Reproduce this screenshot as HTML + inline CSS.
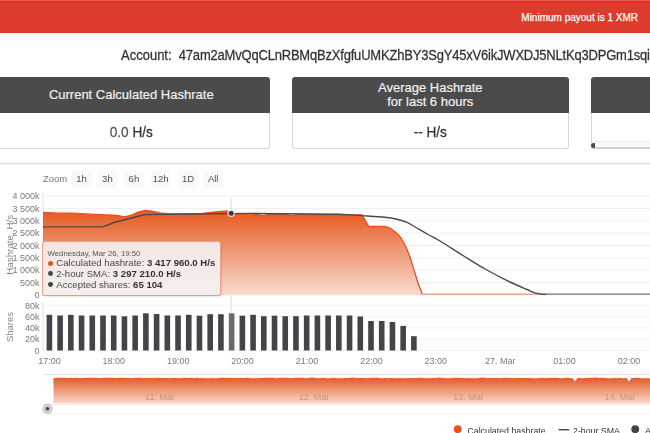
<!DOCTYPE html>
<html><head><meta charset="utf-8"><style>
html,body{margin:0;padding:0;width:650px;height:433px;overflow:hidden;background:#fff;font-family:"Liberation Sans", sans-serif;}
.abs{position:absolute;}
.card{position:absolute;top:77px;width:277.5px;height:72px;}
.card .hd{position:absolute;left:0;top:0;right:0;height:36px;background:#4b4b4b;border-radius:3px 3px 0 0;color:#f0f0f0;font-size:13px;text-align:center;-webkit-text-stroke:0.2px #f0f0f0;}
.card .bd{position:absolute;left:0;top:36px;right:0;height:35px;border:1px solid #d6d6d6;border-top:none;border-radius:0 0 3px 3px;background:#fff;color:#333;font-size:13.6px;text-align:center;line-height:37px;-webkit-text-stroke:0.25px currentColor;}
</style></head><body><div style="position:absolute;left:0;top:0;width:650px;height:433px;overflow:hidden;filter:blur(0.6px)">
<div class="abs" style="left:0;top:0;width:650px;height:33px;background:#dd3b2b"></div>
<div class="abs" style="left:0;top:0;width:650px;height:1px;background:#e25852"></div><div class="abs" style="left:0;top:1px;width:650px;height:1.5px;background:#ee2c26"></div>
<div class="abs" style="right:12px;top:12px;font-size:10px;color:#fff;white-space:nowrap;line-height:12px;-webkit-text-stroke:0.25px #fff">Minimum payout is 1 XMR</div>
<div class="abs" style="left:121px;top:46.5px;font-size:13px;color:#333;white-space:nowrap;line-height:16px;transform:scaleY(1.1);transform-origin:0 0;-webkit-text-stroke:0.25px #333">Account:&nbsp; <span style="letter-spacing:-0.2px">47am2aMvQqCLnRBMqBzXfgfuUMKZhBY3SgY45xV6ikJWXDJ5NLtKq3DPGm1sqiYx2Lh</span></div>
<div class="card" style="left:-7.5px"><div class="hd" style="line-height:36px">Current Calculated Hashrate</div><div class="bd"><span style="display:inline-block;transform:scaleY(1.12)"><span style="color:#555">0.0</span> H/s</span></div></div>
<div class="card" style="left:291.5px"><div class="hd" style="line-height:14px;padding-top:4px;box-sizing:border-box">Average Hashrate<br>for last 6 hours</div><div class="bd"><span style="display:inline-block;transform:scaleY(1.12)">-- H/s</span></div></div>
<div class="card" style="left:590.5px"><div class="hd"></div><div class="bd" style="border-bottom-color:#cfcfcf"><div style="position:absolute;left:0;right:0;bottom:0;height:5px;background:#f9f9f9;border-top:1px solid #efefef;border-bottom:1px solid #d2d2d2"></div><div style="position:absolute;left:-1px;bottom:0px;width:4.5px;height:5.5px;background:#4a4a4a;border-radius:3px 0 0 3px"></div></div></div>
<svg width="650" height="433" viewBox="0 0 650 433" style="position:absolute;left:0;top:0" font-family='"Liberation Sans", sans-serif'><defs><linearGradient id="ag" x1="0" y1="0" x2="0" y2="1"><stop offset="0" stop-color="#e8581f"/><stop offset="0.5" stop-color="#ef9b7a"/><stop offset="1" stop-color="#f9dbcf"/></linearGradient><linearGradient id="ng" x1="0" y1="0" x2="0" y2="1"><stop offset="0" stop-color="#e35a25"/><stop offset="1" stop-color="#fbd8cc"/></linearGradient></defs><rect x="0" y="162.5" width="650" height="2" fill="#e3e3e3"/><text x="43" y="182" font-size="9.5" fill="#777">Zoom</text><rect x="71.6" y="170.5" width="20" height="18" rx="2" fill="#f9f9f9"/><text x="81.6" y="182" font-size="9.5" fill="#505050" text-anchor="middle">1h</text><rect x="97.4" y="170.5" width="20" height="18" rx="2" fill="#f9f9f9"/><text x="107.4" y="182" font-size="9.5" fill="#505050" text-anchor="middle">3h</text><rect x="123.9" y="170.5" width="20" height="18" rx="2" fill="#f9f9f9"/><text x="133.9" y="182" font-size="9.5" fill="#505050" text-anchor="middle">6h</text><rect x="150.6" y="170.5" width="20" height="18" rx="2" fill="#f9f9f9"/><text x="160.6" y="182" font-size="9.5" fill="#505050" text-anchor="middle">12h</text><rect x="178" y="170.5" width="20" height="18" rx="2" fill="#f9f9f9"/><text x="188" y="182" font-size="9.5" fill="#505050" text-anchor="middle">1D</text><rect x="203.2" y="170.5" width="20" height="18" rx="2" fill="#f9f9f9"/><text x="213.2" y="182" font-size="9.5" fill="#505050" text-anchor="middle">All</text><rect x="43" y="294.5" width="607" height="1" fill="#efefef"/><rect x="43" y="282.12" width="607" height="1" fill="#efefef"/><rect x="43" y="269.75" width="607" height="1" fill="#efefef"/><rect x="43" y="257.38" width="607" height="1" fill="#efefef"/><rect x="43" y="245" width="607" height="1" fill="#efefef"/><rect x="43" y="232.62" width="607" height="1" fill="#efefef"/><rect x="43" y="220.25" width="607" height="1" fill="#efefef"/><rect x="43" y="207.88" width="607" height="1" fill="#efefef"/><rect x="43" y="195.5" width="607" height="1" fill="#efefef"/><text x="39.5" y="298.2" font-size="9" fill="#7a7a7a" text-anchor="end">0</text><text x="39.5" y="285.82" font-size="9" fill="#7a7a7a" text-anchor="end">500k</text><text x="39.5" y="273.45" font-size="9" fill="#7a7a7a" text-anchor="end">1 000k</text><text x="39.5" y="261.07" font-size="9" fill="#7a7a7a" text-anchor="end">1 500k</text><text x="39.5" y="248.7" font-size="9" fill="#7a7a7a" text-anchor="end">2 000k</text><text x="39.5" y="236.32" font-size="9" fill="#7a7a7a" text-anchor="end">2 500k</text><text x="39.5" y="223.95" font-size="9" fill="#7a7a7a" text-anchor="end">3 000k</text><text x="39.5" y="211.57" font-size="9" fill="#7a7a7a" text-anchor="end">3 500k</text><text x="39.5" y="199.2" font-size="9" fill="#7a7a7a" text-anchor="end">4 000k</text><text transform="translate(13.2 244.8) rotate(-90)" font-size="9.8" fill="#888" text-anchor="middle">Hashrate, H/s</text><rect x="42.5" y="193" width="1" height="103" fill="#dfe3ee"/><rect x="230.6" y="198" width="1" height="153" fill="#e2d8d6"/><path d="M43 212.3 L58.5 213.2 L71.4 213.1 L90 214.2 L117 215.5 L124.5 217 L130.6 215.5 L138 212 L145.4 210.5 L152 211.2 L160 213 L170 213.9 L200.9 213.6 L215 212 L226.7 211 L231 213.4 L250 214.8 L258 214.6 L263 215.6 L268 214.6 L286 214.6 L292.4 215.6 L298 214.6 L362 214.9 L368.6 226.3 L385 226.3 L390 228 L396 232.4 L401 238 L405.9 246.7 L410 257 L413.6 268.6 L418 283 L422.4 294.2 L422.4 294.2 L422.4 295 L43 295 Z" fill="url(#ag)"/><path d="M43 212.3 L58.5 213.2 L71.4 213.1 L90 214.2 L117 215.5 L124.5 217 L130.6 215.5 L138 212 L145.4 210.5 L152 211.2 L160 213 L170 213.9 L200.9 213.6 L215 212 L226.7 211 L231 213.4 L250 214.8 L258 214.6 L263 215.6 L268 214.6 L286 214.6 L292.4 215.6 L298 214.6 L362 214.9 L368.6 226.3 L385 226.3 L390 228 L396 232.4 L401 238 L405.9 246.7 L410 257 L413.6 268.6 L418 283 L422.4 294.2" fill="none" stroke="#e8521e" stroke-width="1.3"/><path d="M422.4 294.2 L540 294.2" stroke="#f0907c" stroke-width="1.3"/><path d="M43 226.9 L102.3 226.9 L108 225 L114.6 222.2 L126.9 219.2 L139.2 216 L145.4 214.6 L170 214.2 L250 213.4 L340 214.2 C343.67 214.43 354.5 215.08 362 215.6 C369.5 216.12 379.17 216.7 385 217.3 C390.83 217.9 393.33 218.37 397 219.2 C400.67 220.03 403.83 220.92 407 222.3 C410.17 223.68 412.5 225.47 416 227.5 C419.5 229.53 424 232.25 428 234.5 C432 236.75 434.17 237.5 440 241 C445.83 244.5 455.33 250.75 463 255.5 C470.67 260.25 478.17 265.08 486 269.5 C493.83 273.92 503.17 278.67 510 282 C516.83 285.33 522.83 287.7 527 289.5 C531.17 291.3 532.5 292.02 535 292.8 C537.5 293.58 539.83 293.97 542 294.2 C544.17 294.43 547 294.2 548 294.2" fill="none" stroke="#4a4a4e" stroke-width="1.4" stroke-linejoin="round"/><path d="M546 294.2 L650 294.2" stroke="#9a9a9a" stroke-width="1.7"/><circle cx="231.2" cy="213.3" r="3.8" fill="#fff" opacity="0.75"/><circle cx="231.2" cy="213.3" r="2.5" fill="#3a3a3e"/><rect x="43" y="350" width="607" height="1" fill="#f2f2f2"/><rect x="43" y="338.7" width="607" height="1" fill="#f2f2f2"/><rect x="43" y="327.4" width="607" height="1" fill="#f2f2f2"/><rect x="43" y="316.1" width="607" height="1" fill="#f2f2f2"/><rect x="43" y="304.8" width="607" height="1" fill="#f2f2f2"/><text x="39.5" y="353.7" font-size="9" fill="#7a7a7a" text-anchor="end">0</text><text x="39.5" y="342.4" font-size="9" fill="#7a7a7a" text-anchor="end">20k</text><text x="39.5" y="331.1" font-size="9" fill="#7a7a7a" text-anchor="end">40k</text><text x="39.5" y="319.8" font-size="9" fill="#7a7a7a" text-anchor="end">60k</text><text x="39.5" y="308.5" font-size="9" fill="#7a7a7a" text-anchor="end">80k</text><text transform="translate(13 327) rotate(-90)" font-size="9.5" fill="#888" text-anchor="middle">Shares</text><rect x="42.5" y="302" width="1" height="49" fill="#dfe3ee"/><rect x="46.6" y="314.8" width="5.6" height="35.7" fill="#434348"/><rect x="57.32" y="315.5" width="5.6" height="35" fill="#434348"/><rect x="68.04" y="314.8" width="5.6" height="35.7" fill="#434348"/><rect x="78.76" y="315.5" width="5.6" height="35" fill="#434348"/><rect x="89.48" y="315.5" width="5.6" height="35" fill="#434348"/><rect x="100.2" y="315.5" width="5.6" height="35" fill="#434348"/><rect x="110.92" y="315.5" width="5.6" height="35" fill="#434348"/><rect x="121.64" y="316.3" width="5.6" height="34.2" fill="#434348"/><rect x="132.36" y="315.5" width="5.6" height="35" fill="#434348"/><rect x="143.08" y="313.3" width="5.6" height="37.2" fill="#434348"/><rect x="153.8" y="314" width="5.6" height="36.5" fill="#434348"/><rect x="164.52" y="315.5" width="5.6" height="35" fill="#434348"/><rect x="175.24" y="315.5" width="5.6" height="35" fill="#434348"/><rect x="185.96" y="314.8" width="5.6" height="35.7" fill="#434348"/><rect x="196.68" y="315.7" width="5.6" height="34.8" fill="#434348"/><rect x="207.4" y="314.2" width="5.6" height="36.3" fill="#434348"/><rect x="218.12" y="314.2" width="5.6" height="36.3" fill="#434348"/><rect x="228.84" y="313.3" width="5.6" height="37.2" fill="#6a6a6a"/><rect x="239.56" y="315.7" width="5.6" height="34.8" fill="#434348"/><rect x="250.28" y="314.8" width="5.6" height="35.7" fill="#434348"/><rect x="261" y="316.2" width="5.6" height="34.3" fill="#434348"/><rect x="271.72" y="315.7" width="5.6" height="34.8" fill="#434348"/><rect x="282.44" y="316.2" width="5.6" height="34.3" fill="#434348"/><rect x="293.16" y="316.2" width="5.6" height="34.3" fill="#434348"/><rect x="303.88" y="315.5" width="5.6" height="35" fill="#434348"/><rect x="314.6" y="315.5" width="5.6" height="35" fill="#434348"/><rect x="325.32" y="315.5" width="5.6" height="35" fill="#434348"/><rect x="336.04" y="315.5" width="5.6" height="35" fill="#434348"/><rect x="346.76" y="315.5" width="5.6" height="35" fill="#434348"/><rect x="357.48" y="316.5" width="5.6" height="34" fill="#434348"/><rect x="368.2" y="321" width="5.6" height="29.5" fill="#434348"/><rect x="378.92" y="321" width="5.6" height="29.5" fill="#434348"/><rect x="389.64" y="322" width="5.6" height="28.5" fill="#434348"/><rect x="400.36" y="325.9" width="5.6" height="24.6" fill="#434348"/><rect x="411.08" y="336.2" width="5.6" height="14.3" fill="#434348"/><text x="49.4" y="363.8" font-size="9" fill="#7a7a7a" text-anchor="middle">17:00</text><text x="113.8" y="363.8" font-size="9" fill="#7a7a7a" text-anchor="middle">18:00</text><text x="178.2" y="363.8" font-size="9" fill="#7a7a7a" text-anchor="middle">19:00</text><text x="242.6" y="363.8" font-size="9" fill="#7a7a7a" text-anchor="middle">20:00</text><text x="307" y="363.8" font-size="9" fill="#7a7a7a" text-anchor="middle">21:00</text><text x="371.4" y="363.8" font-size="9" fill="#7a7a7a" text-anchor="middle">22:00</text><text x="435.8" y="363.8" font-size="9" fill="#7a7a7a" text-anchor="middle">23:00</text><text x="500.2" y="363.8" font-size="9" fill="#7a7a7a" text-anchor="middle">27. Mar</text><text x="564.6" y="363.8" font-size="9" fill="#7a7a7a" text-anchor="middle">01:00</text><text x="629" y="363.8" font-size="9" fill="#7a7a7a" text-anchor="middle">02:00</text><rect x="43" y="374" width="607" height="1" fill="#ebe2e0"/><path d="M53.5 378.2 L56.47 377.71 L60.42 377.65 L64.03 377.86 L66.21 377.96 L68.32 377.9 L70.53 377.66 L73.8 378.18 L76.17 377.76 L80.06 378.26 L83.79 377.88 L88.72 377.63 L93.29 377.8 L95.72 377.68 L98.65 378.17 L101.19 378.01 L105.11 377.86 L108.75 377.64 L110.93 377.74 L114.97 377.9 L117.91 378.01 L121.27 377.81 L125.66 378.09 L128.39 378 L131.96 378.21 L136.15 377.8 L141.09 377.68 L144.35 378.13 L146.8 377.94 L148.92 378.07 L153.21 378 L157.84 377.82 L161.93 378.02 L165.67 377.92 L170.19 378.26 L173.61 378.06 L175.79 378.09 L179.73 378.3 L184.2 377.8 L187.36 378.07 L189.42 377.92 L191.93 377.68 L194.1 378.14 L196.49 377.77 L199.66 378.21 L201.91 377.91 L205.56 378.22 L210.01 378.2 L212.85 377.89 L215.92 378.22 L220.8 377.71 L223.33 377.76 L226.03 377.94 L229.79 377.78 L231.81 377.89 L234.91 378 L239.77 378.08 L243.32 378.03 L247.35 377.64 L252.05 378.15 L256.67 378.16 L259.85 377.88 L262.16 378.04 L264.34 377.65 L266.97 377.71 L269.99 377.64 L271.99 377.71 L274.3 377.85 L276.37 378.21 L280.21 377.7 L282.97 377.84 L286.06 377.69 L290.61 378.3 L294.01 377.94 L296.27 377.67 L299.29 377.79 L303.78 377.71 L305.85 378.27 L309.44 377.7 L313.06 377.62 L316.65 378.28 L321.24 378.09 L324.02 377.86 L326.52 378.14 L330.12 378.15 L333.11 377.76 L337.54 378.29 L342.1 378.16 L346.56 378.12 L349.24 377.96 L352.3 377.62 L354.39 377.8 L357.17 378.08 L362.04 377.91 L366.85 378.29 L371.71 377.86 L374.37 377.76 L376.96 377.74 L380.84 378.23 L385.36 377.94 L389.32 378.16 L391.57 378.06 L396.3 378.15 L400.55 377.93 L403.09 378.15 L406.08 378.16 L411 377.88 L414.2 378.26 L418.38 377.72 L420.76 377.71 L425.47 378.16 L427.91 378.18 L432.85 378.06 L435.9 377.98 L438.3 377.61 L443.21 378.05 L446.79 378.25 L450.09 378.21 L454.57 377.75 L457.32 377.81 L460.04 378.01 L462.82 377.89 L465.22 378.24 L468.28 377.92 L472.03 378.23 L475.29 378.24 L478.79 377.97 L482.36 377.61 L485.69 377.73 L487.7 378.16 L490.21 377.93 L494.39 377.99 L497.37 377.96 L501.03 378.15 L503.35 377.99 L506.1 377.79 L510.41 377.96 L514.1 378.13 L518.84 377.91 L522.67 377.95 L526.21 378.08 L529.57 377.97 L533 378.26 L537.1 378.21 L541.93 377.78 L545.61 378.26 L550.13 377.7 L552.49 377.91 L554.71 377.77 L556.93 378.07 L561.28 378.23 L563.74 378.1 L567.72 377.7 L572.37 378.28 L572.5 378 L575 381.5 L577.5 378 L578.23 377.94 L583.19 378.18 L585.68 377.9 L589.23 377.84 L591.81 377.82 L595.98 377.61 L599.64 377.91 L601.7 377.83 L605.57 377.96 L607.76 378.29 L612.13 378.28 L614.44 377.79 L616.56 378.15 L619.37 377.69 L622.64 378.24 L626.5 378 L629 381.5 L631.5 378 L633.25 378.09 L635.52 377.64 L639.59 377.9 L641.8 378.26 L645.71 378.16 L647.96 378.2 L650.16 378.2 L653.52 377.84 L652 403.5 L53.5 403.5 Z" fill="url(#ng)"/><text x="160" y="400" font-size="9" fill="#c99580" text-anchor="middle">11. Mar</text><text x="314" y="400" font-size="9" fill="#c99580" text-anchor="middle">12. Mar</text><text x="468.6" y="400" font-size="9" fill="#c99580" text-anchor="middle">13. Mar</text><text x="620" y="400" font-size="9" fill="#c99580" text-anchor="middle">14. Mar</text><rect x="43" y="404" width="607" height="1" fill="#efefef"/><rect x="43" y="413.5" width="607" height="1" fill="#efefef"/><circle cx="47.5" cy="408.8" r="5.3" fill="#cfcfcf"/><circle cx="47.5" cy="408.8" r="1.8" fill="#444"/><circle cx="457.7" cy="429.2" r="3.9" fill="#e8521e"/><text x="467.4" y="433.6" font-size="8.8" fill="#333">Calculated hashrate</text><rect x="558.7" y="429" width="10.5" height="1.4" fill="#434348"/><text x="573" y="433.6" font-size="8.8" fill="#333">2-hour SMA</text><circle cx="635.2" cy="429.2" r="3.9" fill="#434348"/><text x="645" y="433.6" font-size="8.8" fill="#333">Accepted shares</text></svg>

<div style="position:absolute;left:41.5px;top:241px;width:177px;height:53.2px;border:1px solid #eda08c;border-bottom:1.5px solid #e69a88;border-radius:3px;background:rgba(244,241,241,0.9);box-shadow:1px 1px 1.5px rgba(0,0,0,0.10)">
 <div style="position:absolute;left:5px;top:6.5px;font-size:7.8px;line-height:9px;color:#555;white-space:nowrap">Wednesday, Mar 26, 19:50</div>
 <div style="position:absolute;left:5.5px;top:18.5px;width:5px;height:5px;border-radius:50%;background:#e8521e"></div>
 <div style="position:absolute;left:5.6px;top:28.8px;width:4.8px;height:4.8px;border-radius:50%;background:#434348"></div>
 <div style="position:absolute;left:5.6px;top:40.1px;width:4.8px;height:4.8px;border-radius:50%;background:#434348"></div>
 <div style="position:absolute;left:13.8px;top:15px;font-size:9.6px;line-height:11px;color:#4a4a4a;white-space:nowrap">Calculated hashrate: <b style="color:#333">3 417 960.0 H/s</b></div>
 <div style="position:absolute;left:13.8px;top:25.8px;font-size:9.6px;line-height:11px;color:#4a4a4a;white-space:nowrap">2-hour SMA: <b style="color:#333">3 297 210.0 H/s</b></div>
 <div style="position:absolute;left:13.8px;top:36.6px;font-size:9.6px;line-height:11px;color:#4a4a4a;white-space:nowrap">Accepted shares: <b style="color:#333">65 104</b></div>
</div>
</div></body></html>
